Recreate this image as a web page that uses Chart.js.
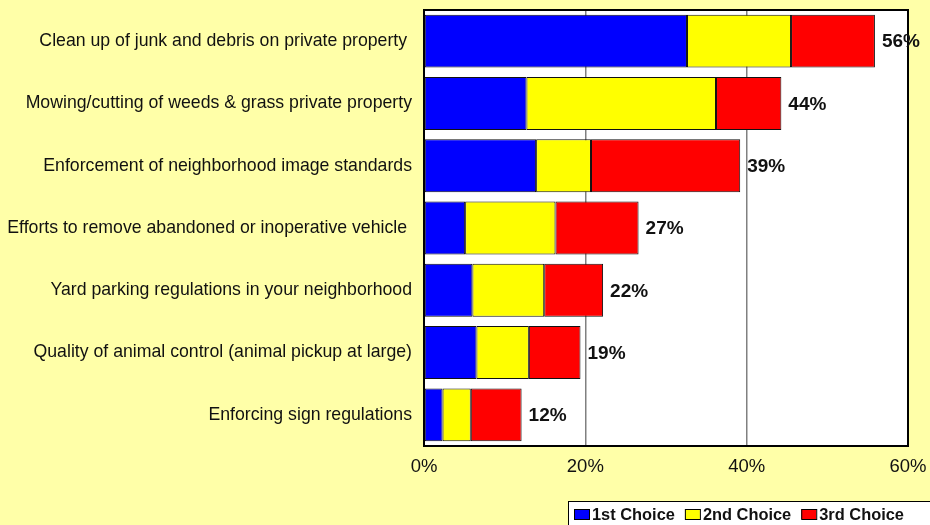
<!DOCTYPE html>
<html>
<head>
<meta charset="utf-8">
<title>Code enforcement priorities</title>
<script src="https://cdn.jsdelivr.net/npm/chart.js@4.4.1/dist/chart.umd.min.js"></script>
<style>
    body { margin: 0; background: #FFFFA8; }
    canvas { display: block; }
</style>
</head>
<body>
<canvas id="priorityChart" width="930" height="525"></canvas>
<script>
const categories = [
    "Clean up of junk and debris on private property ",
    "Mowing/cutting of weeds & grass private property",
    "Enforcement of neighborhood image standards",
    "Efforts to remove abandoned or inoperative vehicle ",
    "Yard parking regulations in your neighborhood",
    "Quality of animal control (animal pickup at large)",
    "Enforcing sign regulations"
];

const firstChoice  = [32.6, 12.7, 13.9, 5.1, 6.0, 6.5, 2.3];
const secondChoice = [12.9, 23.5, 6.8, 11.2, 8.9, 6.5, 3.5];
const thirdChoice  = [10.4, 8.1, 18.5, 10.3, 7.3, 6.4, 6.3];

const seriesNames = ["1st Choice", "2nd Choice", "3rd Choice"];
const seriesColors = ["#0000FF", "#FFFF00", "#FF0000"];

const xMin = 0;
const xMax = 60;
const xStep = 20;

const FONT = 'Arial, "Liberation Sans", sans-serif';
const BG = "#FFFFA8";

// page background, white plot area
const backdrop = {
    id: "backdrop",
    beforeDraw(chart) {
        const { ctx, chartArea: a } = chart;
        ctx.save();
        ctx.fillStyle = BG;
        ctx.fillRect(0, 0, chart.width, chart.height);
        ctx.fillStyle = "#FFFFFF";
        ctx.fillRect(a.left, a.top, a.right - a.left, a.bottom - a.top);
        ctx.restore();
    }
};

// frame around the plot + total % at the end of each bar
const frameAndTotals = {
    id: "frameAndTotals",
    afterDatasetsDraw(chart) {
        const { ctx, chartArea: a } = chart;
        ctx.save();
        ctx.strokeStyle = "#000";
        ctx.lineWidth = 2;
        ctx.strokeRect(a.left, a.top, a.right - a.left, a.bottom - a.top);

        const last = chart.getDatasetMeta(chart.data.datasets.length - 1);
        ctx.font = "bold 19px " + FONT;
        ctx.fillStyle = "#111";
        ctx.textAlign = "left";
        ctx.textBaseline = "middle";
        categories.forEach((c, i) => {
            const total = firstChoice[i] + secondChoice[i] + thirdChoice[i];
            const bar = last.data[i];
            ctx.fillText(Math.round(total) + "%", bar.x + 7, bar.y + 1);
        });
        ctx.restore();
    }
};

// boxed legend in the lower right corner
const cornerLegend = {
    id: "cornerLegend",
    afterDraw(chart) {
        const ctx = chart.ctx;
        const left = 568, top = 501;
        ctx.save();
        ctx.fillStyle = "#FFFFFF";
        ctx.fillRect(left, top, chart.width - left + 5, chart.height - top + 5);
        ctx.strokeStyle = "#000";
        ctx.lineWidth = 1;
        ctx.strokeRect(left + 0.5, top + 0.5, chart.width - left + 5, chart.height - top + 5);

        ctx.font = "bold 16.4px " + FONT;
        ctx.textBaseline = "middle";
        let x = 574;
        chart.data.datasets.forEach(ds => {
            ctx.fillStyle = ds.backgroundColor;
            ctx.fillRect(x, 509, 15, 10);
            ctx.strokeStyle = "#000";
            ctx.strokeRect(x + 0.5, 509.5, 15, 10);
            ctx.fillStyle = "#111";
            ctx.fillText(ds.label, x + 18, 515);
            x += 18 + ctx.measureText(ds.label).width + 10;
        });
        ctx.restore();
    }
};

const datasets = [firstChoice, secondChoice, thirdChoice].map((values, k) => ({
    label: seriesNames[k],
    data: values,
    backgroundColor: seriesColors[k],
    borderColor: "#111",
    borderWidth: 1,
    borderSkipped: false,
    barPercentage: 0.85,
    categoryPercentage: 1.0
}));

new Chart(document.getElementById("priorityChart"), {
    type: "bar",
    data: {
        labels: categories,
        datasets: datasets
    },
    options: {
        indexAxis: "y",
        responsive: false,
        animation: false,
        devicePixelRatio: 1,
        layout: { padding: { top: 10, right: 22, left: 0, bottom: 0 } },
        plugins: {
            legend: { display: false },
            tooltip: { enabled: false }
        },
        scales: {
            x: {
                stacked: true,
                min: xMin,
                max: xMax,
                ticks: {
                    stepSize: xStep,
                    padding: 9.5,
                    color: "#111",
                    font: { family: FONT, size: 18.5 },
                    callback: v => v + "%"
                },
                grid: {
                    color: "#808080",
                    lineWidth: 1.5,
                    drawTicks: false
                },
                border: { display: false },
                afterFit: scale => {
                    scale.height = 79;
                    scale.paddingLeft = 0;
                    scale.paddingRight = 0;
                }
            },
            y: {
                stacked: true,
                ticks: {
                    padding: 12,
                    color: "#111",
                    font: { family: FONT, size: 17.7 }
                },
                grid: { display: false, drawTicks: false },
                border: { display: false },
                afterFit: scale => {
                    scale.width = 424;
                    scale.paddingTop = 0;
                    scale.paddingBottom = 0;
                }
            }
        }
    },
    plugins: [backdrop, frameAndTotals, cornerLegend]
});
</script>
</body>
</html>
